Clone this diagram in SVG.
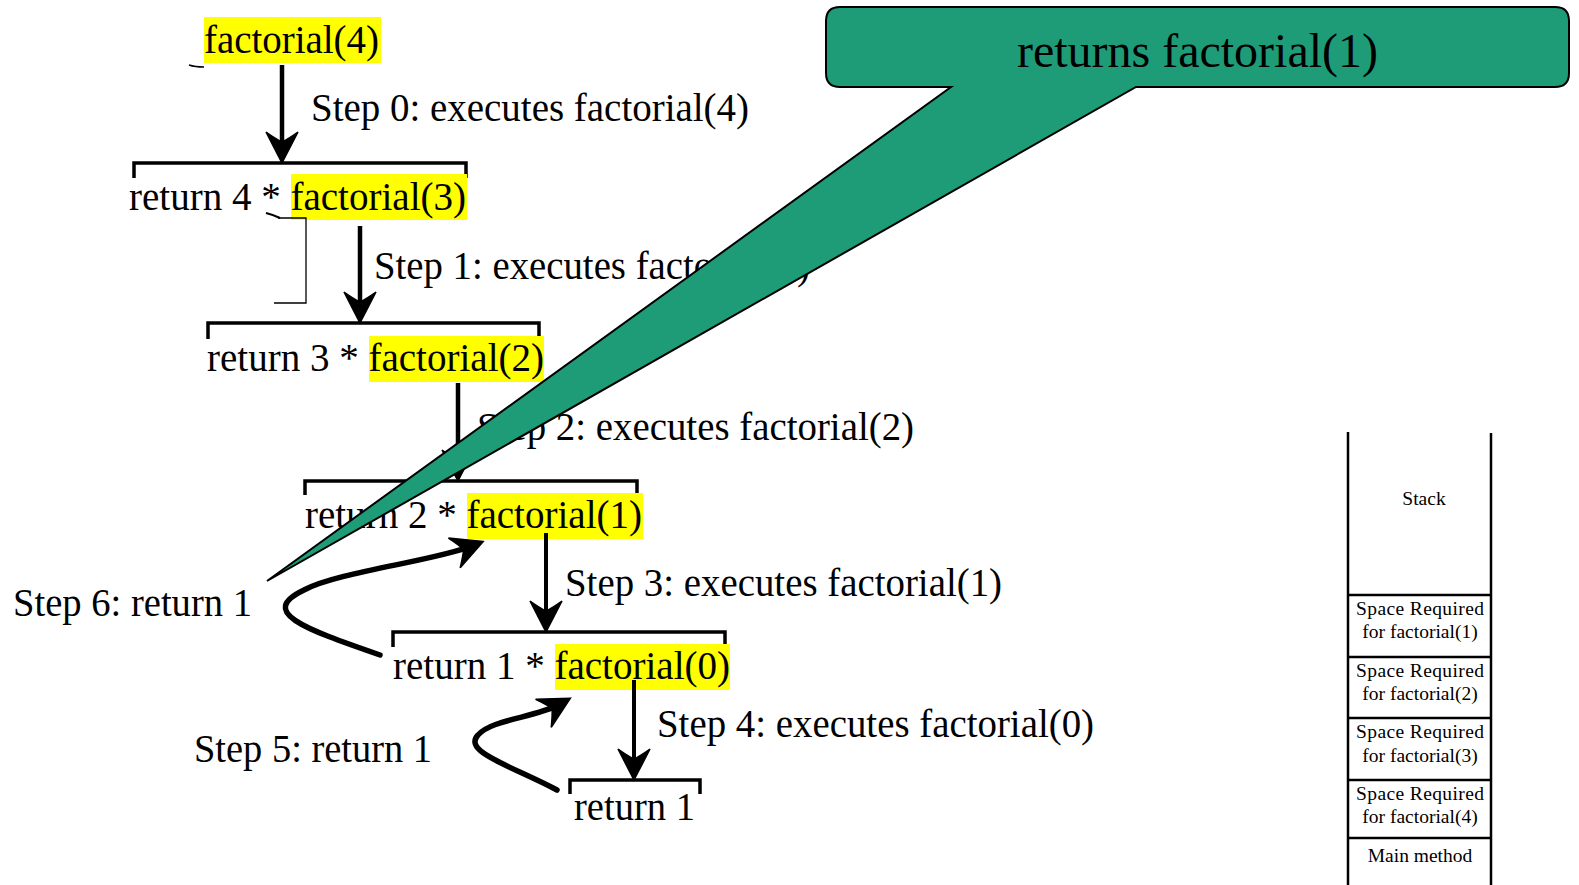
<svg xmlns="http://www.w3.org/2000/svg" width="1579" height="885" viewBox="0 0 1579 885">
<style>
  text { font-family: "Liberation Serif", "Times New Roman", serif; fill: #000; }
  .t { font-size: 39px; }
  .s { font-size: 19.5px; }
  .hl { fill: #ffff00; }
  .br { fill: none; stroke: #000; stroke-width: 3.5; }
  .ar { fill: none; stroke: #000; stroke-width: 4.5; marker-end: url(#ah); }
  .cv { fill: none; stroke: #000; stroke-width: 5.5; stroke-linecap: round; marker-end: url(#ah); }
  .stk { fill: none; stroke: #000; stroke-width: 2.5; }
</style>
<defs>
  <marker id="ah" markerUnits="userSpaceOnUse" markerWidth="44" markerHeight="44" viewBox="-38 -22 44 44" refX="-12" refY="0" orient="auto" overflow="visible">
    <path d="M0,0 L-31,-16 Q-24,-6 -21,0 Q-24,6 -31,16 Z" fill="#000" stroke="#000" stroke-width="1.5" stroke-linejoin="miter"/>
  </marker>
</defs>

<g id="call-0">
  <rect class="hl" x="204" y="17" width="177" height="46"/>
  <text class="t" x="204" y="53" textLength="175" lengthAdjust="spacingAndGlyphs">factorial(4)</text>
  <path d="M189,65 Q195,67 204,67" fill="none" stroke="#000" stroke-width="1.5"/>
</g>
<g id="call-1">
  <path class="br" d="M134,178 V163 H466 V178"/>
  <rect class="hl" x="291" y="174" width="176" height="46"/>
  <text class="t" x="129" y="210" textLength="337" lengthAdjust="spacingAndGlyphs">return 4 * factorial(3)</text>
  <path d="M266,213 Q274,215 280,218" fill="none" stroke="#000" stroke-width="2"/>
  <path d="M278,218 H306 V303 H274" fill="none" stroke="#000" stroke-width="1.3"/>
</g>
<g id="call-2">
  <path class="br" d="M208,339 V323 H539 V339"/>
  <rect class="hl" x="369" y="336" width="175" height="46"/>
  <text class="t" x="207" y="371" textLength="337" lengthAdjust="spacingAndGlyphs">return 3 * factorial(2)</text>
</g>
<g id="call-3">
  <path class="br" d="M305,495 V481 H637 V495"/>
  <rect class="hl" x="467" y="493" width="176" height="46"/>
  <text class="t" x="305" y="528" textLength="337" lengthAdjust="spacingAndGlyphs">return 2 * factorial(1)</text>
</g>
<g id="call-4">
  <path class="br" d="M393,647 V632 H725 V647"/>
  <rect class="hl" x="555" y="644" width="175" height="46"/>
  <text class="t" x="393" y="679" textLength="337" lengthAdjust="spacingAndGlyphs">return 1 * factorial(0)</text>
</g>
<g id="call-5">
  <path class="br" d="M570,794 V780 H700 V794"/>
  <text class="t" x="574" y="820" textLength="121" lengthAdjust="spacingAndGlyphs">return 1</text>
</g>

<g id="connectors">
  <line class="ar" x1="282" y1="65" x2="282" y2="151"/>
  <line class="ar" x1="360" y1="226" x2="360" y2="311"/>
  <line class="ar" x1="458" y1="383" x2="458" y2="469"/>
  <line class="ar" x1="546" y1="533" x2="546" y2="620" style="stroke-width:4"/>
  <line class="ar" x1="634" y1="680" x2="634" y2="768" style="stroke-width:4"/>
  <path class="cv" d="M557,790 C512,766 462,752 478,735 C492,719 535,718 560,704"/>
  <path class="cv" d="M380,655 C302,628 258,612 304,590 C337,572 434,561 472,546"/>
</g>

<g id="labels">
  <text class="t" x="311" y="121" textLength="438" lengthAdjust="spacingAndGlyphs">Step 0: executes factorial(4)</text>
  <text class="t" x="374" y="279" textLength="436" lengthAdjust="spacingAndGlyphs">Step 1: executes factorial(3)</text>
  <text class="t" x="477" y="440" textLength="437" lengthAdjust="spacingAndGlyphs">Step 2: executes factorial(2)</text>
  <text class="t" x="565" y="596" textLength="437" lengthAdjust="spacingAndGlyphs">Step 3: executes factorial(1)</text>
  <text class="t" x="657" y="737" textLength="437" lengthAdjust="spacingAndGlyphs">Step 4: executes factorial(0)</text>
  <text class="t" x="194" y="762" textLength="238" lengthAdjust="spacingAndGlyphs">Step 5: return 1</text>
  <text class="t" x="13" y="616" textLength="239" lengthAdjust="spacingAndGlyphs">Step 6: return 1</text>
</g>

<g id="callout">
  <path d="M840,7 H1555 Q1569,7 1569,21 V73 Q1569,87 1555,87 H1136 L267,581 L951,87 H840 Q826,87 826,73 V21 Q826,7 840,7 Z" fill="#1e9c78" stroke="#000" stroke-width="2"/>
  <text x="1017" y="67" style="font-size:48px" textLength="361" lengthAdjust="spacingAndGlyphs">returns factorial(1)</text>
</g>

<g id="stack">
  <line class="stk" x1="1348" y1="432" x2="1348" y2="885"/>
  <line class="stk" x1="1491" y1="433" x2="1491" y2="885"/>
  <line class="stk" x1="1348" y1="595" x2="1491" y2="595"/>
  <line class="stk" x1="1348" y1="657" x2="1491" y2="657"/>
  <line class="stk" x1="1348" y1="718" x2="1491" y2="718"/>
  <line class="stk" x1="1348" y1="780" x2="1491" y2="780"/>
  <line class="stk" x1="1348" y1="838" x2="1491" y2="838"/>
  <text class="s" x="1424" y="505" text-anchor="middle">Stack</text>
  <text class="s" x="1420" y="615" text-anchor="middle" textLength="128" lengthAdjust="spacing">Space Required</text>
  <text class="s" x="1420" y="638" text-anchor="middle">for factorial(1)</text>
  <text class="s" x="1420" y="677" text-anchor="middle" textLength="128" lengthAdjust="spacing">Space Required</text>
  <text class="s" x="1420" y="700" text-anchor="middle">for factorial(2)</text>
  <text class="s" x="1420" y="738" text-anchor="middle" textLength="128" lengthAdjust="spacing">Space Required</text>
  <text class="s" x="1420" y="762" text-anchor="middle">for factorial(3)</text>
  <text class="s" x="1420" y="800" text-anchor="middle" textLength="128" lengthAdjust="spacing">Space Required</text>
  <text class="s" x="1420" y="823" text-anchor="middle">for factorial(4)</text>
  <text class="s" x="1420" y="862" text-anchor="middle">Main method</text>
</g>
</svg>
